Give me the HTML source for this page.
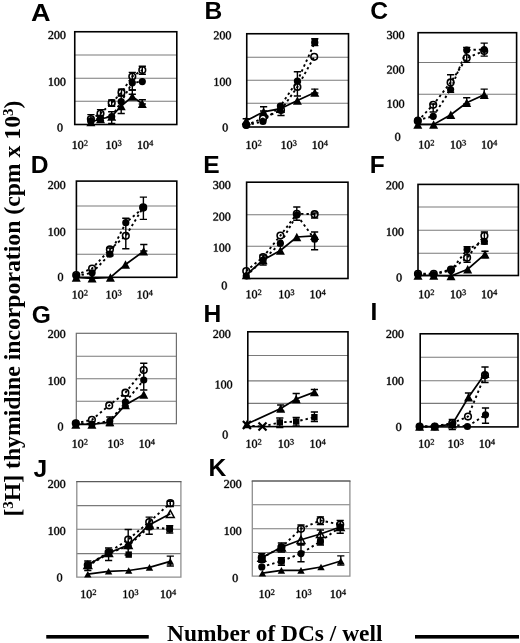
<!DOCTYPE html>
<html><head><meta charset="utf-8"><style>
html,body{margin:0;padding:0;background:#fff;}
svg{display:block;filter:grayscale(1) blur(0.3px);}
use{fill:#000;stroke:#000;stroke-width:75px;}
.yl{font-family:"Liberation Serif",serif;font-size:12px;text-anchor:end;fill:#000;stroke:#000;stroke-width:0.25px;}
.tk{font-family:"Liberation Serif",serif;font-size:12px;fill:#000;stroke:#000;stroke-width:0.25px;}
.sup{font-size:8.4px;}
.pl{font-family:"Liberation Sans",sans-serif;font-weight:bold;font-size:24.6px;fill:#000;}
.big{font-family:"Liberation Serif",serif;font-weight:bold;font-size:23.2px;fill:#000;}
</style></head><body>
<svg width="520" height="643" viewBox="0 0 520 643">
<defs><path id="g0" d="M946 676Q946 -20 506 -20Q294 -20 186.0 158.0Q78 336 78 676Q78 1009 186.0 1185.5Q294 1362 514 1362Q726 1362 836.0 1187.5Q946 1013 946 676ZM762 676Q762 998 701.0 1140.0Q640 1282 506 1282Q376 1282 319.0 1148.0Q262 1014 262 676Q262 336 320.0 197.5Q378 59 506 59Q638 59 700.0 204.5Q762 350 762 676Z"/><path id="g1" d="M627 80 901 53V0H180V53L455 80V1174L184 1077V1130L575 1352H627Z"/><path id="g2" d="M911 0H90V147L276 316Q455 473 539.0 570.0Q623 667 659.5 770.0Q696 873 696 1006Q696 1136 637.0 1204.0Q578 1272 444 1272Q391 1272 335.0 1257.5Q279 1243 236 1219L201 1055H135V1313Q317 1356 444 1356Q664 1356 774.5 1264.5Q885 1173 885 1006Q885 894 841.5 794.5Q798 695 708.0 596.5Q618 498 410 321Q321 245 221 154H911Z"/><path id="g3" d="M944 365Q944 184 820.0 82.0Q696 -20 469 -20Q279 -20 109 23L98 305H164L209 117Q248 95 319.5 79.0Q391 63 453 63Q610 63 685.0 135.0Q760 207 760 375Q760 507 691.0 575.5Q622 644 477 651L334 659V741L477 750Q590 756 644.0 820.0Q698 884 698 1014Q698 1149 639.5 1210.5Q581 1272 453 1272Q400 1272 342.0 1257.5Q284 1243 240 1219L205 1055H139V1313Q238 1339 310.0 1347.5Q382 1356 453 1356Q883 1356 883 1026Q883 887 806.5 804.5Q730 722 590 702Q772 681 858.0 597.5Q944 514 944 365Z"/><path id="g4" d="M810 295V0H638V295H40V428L695 1348H810V438H992V295ZM638 1113H633L153 438H638Z"/></defs>
<rect width="520" height="643" fill="#fff"/>
<g id="pA"><line x1="74.75" y1="55" x2="176.8" y2="55" stroke="#7a7a7a" stroke-width="1.1"/><line x1="74.75" y1="78.2" x2="176.8" y2="78.2" stroke="#7a7a7a" stroke-width="1.1"/><line x1="74.75" y1="101.2" x2="176.8" y2="101.2" stroke="#7a7a7a" stroke-width="1.1"/><rect x="74.75" y="31.75" width="102.05" height="92.75" fill="none" stroke="#000" stroke-width="1.6"/><use href="#g2" transform="translate(47.90 39.00) scale(0.00586 -0.00586)"/><use href="#g0" transform="translate(53.90 39.00) scale(0.00586 -0.00586)"/><use href="#g0" transform="translate(59.90 39.00) scale(0.00586 -0.00586)"/><use href="#g1" transform="translate(47.90 85.70) scale(0.00586 -0.00586)"/><use href="#g0" transform="translate(53.90 85.70) scale(0.00586 -0.00586)"/><use href="#g0" transform="translate(59.90 85.70) scale(0.00586 -0.00586)"/><use href="#g0" transform="translate(57.00 131.50) scale(0.00586 -0.00586)"/><use href="#g1" transform="translate(71.70 148.90) scale(0.00586 -0.00586)"/><use href="#g0" transform="translate(77.70 148.90) scale(0.00586 -0.00586)"/><use href="#g2" transform="translate(83.80 145.80) scale(0.00410 -0.00410)"/><use href="#g1" transform="translate(105.50 148.90) scale(0.00586 -0.00586)"/><use href="#g0" transform="translate(111.50 148.90) scale(0.00586 -0.00586)"/><use href="#g3" transform="translate(117.60 145.80) scale(0.00410 -0.00410)"/><use href="#g1" transform="translate(137.00 148.90) scale(0.00586 -0.00586)"/><use href="#g0" transform="translate(143.00 148.90) scale(0.00586 -0.00586)"/><use href="#g4" transform="translate(149.10 145.80) scale(0.00410 -0.00410)"/><text x="0" y="0" class="pl" transform="translate(30.95 21.2) scale(1.1 1.0)">A</text><path d="M90.90 122.00 L100.50 119.00 L111.70 116.50 L121.20 106.00 L132.30 96.50 L142.30 103.70" fill="none" stroke="#000" stroke-width="1.7"/><path d="M90.90 119.00 L100.50 113.50 L111.70 103.00 L121.50 92.40 L132.30 76.50 L142.30 70.10" fill="none" stroke="#000" stroke-width="1.9" stroke-dasharray="2.4 3"/><path d="M90.90 120.80 L100.50 118.00 L111.70 116.50 L121.20 101.70 L132.30 82.80 L142.30 81.60" fill="none" stroke="#000" stroke-width="1.9" stroke-dasharray="2.4 3"/><path d="M90.90 114.60V122.00M87.30 114.60H94.50M87.30 122.00H94.50" stroke="#000" stroke-width="1.4" fill="none"/><path d="M100.50 109.60V120.80M96.90 109.60H104.10M96.90 120.80H104.10" stroke="#000" stroke-width="1.4" fill="none"/><path d="M111.70 111.80V123.50M108.10 111.80H115.30M108.10 123.50H115.30" stroke="#000" stroke-width="1.4" fill="none"/><path d="M121.20 96.00V113.50M117.60 96.00H124.80M117.60 113.50H124.80" stroke="#000" stroke-width="1.4" fill="none"/><path d="M132.30 72.40V90.00M128.70 72.40H135.90M128.70 90.00H135.90" stroke="#000" stroke-width="1.4" fill="none"/><path d="M132.30 90.00V94.30M128.70 90.00H135.90M128.70 94.30H135.90" stroke="#000" stroke-width="1.4" fill="none"/><path d="M142.30 66.20V74.20M138.70 66.20H145.90M138.70 74.20H145.90" stroke="#000" stroke-width="1.4" fill="none"/><path d="M142.30 99.70V104.00M138.70 99.70H145.90M138.70 104.00H145.90" stroke="#000" stroke-width="1.4" fill="none"/><path d="M111.70 100.00V106.30M108.10 100.00H115.30M108.10 106.30H115.30" stroke="#000" stroke-width="1.4" fill="none"/><path d="M121.50 89.20V95.60M117.90 89.20H125.10M117.90 95.60H125.10" stroke="#000" stroke-width="1.4" fill="none"/><path d="M86.40 126.20L90.90 117.80L95.40 126.20Z" fill="#000"/><path d="M96.00 123.20L100.50 114.80L105.00 123.20Z" fill="#000"/><path d="M107.20 120.70L111.70 112.30L116.20 120.70Z" fill="#000"/><path d="M116.70 110.20L121.20 101.80L125.70 110.20Z" fill="#000"/><path d="M127.80 100.70L132.30 92.30L136.80 100.70Z" fill="#000"/><path d="M137.80 107.90L142.30 99.50L146.80 107.90Z" fill="#000"/><circle cx="90.9" cy="119" r="3.30" fill="none" stroke="#000" stroke-width="1.6"/><circle cx="100.5" cy="113.5" r="3.30" fill="none" stroke="#000" stroke-width="1.6"/><circle cx="111.7" cy="103" r="3.30" fill="none" stroke="#000" stroke-width="1.6"/><circle cx="121.5" cy="92.4" r="3.30" fill="none" stroke="#000" stroke-width="1.6"/><circle cx="132.3" cy="76.5" r="3.30" fill="none" stroke="#000" stroke-width="1.6"/><circle cx="142.3" cy="70.1" r="3.30" fill="none" stroke="#000" stroke-width="1.6"/><circle cx="90.9" cy="120.8" r="3.6" fill="#000"/><circle cx="100.5" cy="118" r="3.6" fill="#000"/><circle cx="111.7" cy="116.5" r="3.6" fill="#000"/><circle cx="121.2" cy="101.7" r="3.6" fill="#000"/><circle cx="132.3" cy="82.8" r="3.6" fill="#000"/><circle cx="142.3" cy="81.6" r="3.6" fill="#000"/></g>
<g id="pB"><line x1="246.75" y1="57.2" x2="348.5" y2="57.2" stroke="#7a7a7a" stroke-width="1.1"/><line x1="246.75" y1="80.2" x2="348.5" y2="80.2" stroke="#7a7a7a" stroke-width="1.1"/><line x1="246.75" y1="103.3" x2="348.5" y2="103.3" stroke="#7a7a7a" stroke-width="1.1"/><rect x="246.75" y="33.75" width="101.75" height="93.25" fill="none" stroke="#000" stroke-width="1.6"/><use href="#g2" transform="translate(213.40 39.30) scale(0.00586 -0.00586)"/><use href="#g0" transform="translate(219.40 39.30) scale(0.00586 -0.00586)"/><use href="#g0" transform="translate(225.40 39.30) scale(0.00586 -0.00586)"/><use href="#g1" transform="translate(213.40 85.80) scale(0.00586 -0.00586)"/><use href="#g0" transform="translate(219.40 85.80) scale(0.00586 -0.00586)"/><use href="#g0" transform="translate(225.40 85.80) scale(0.00586 -0.00586)"/><use href="#g0" transform="translate(222.20 131.40) scale(0.00586 -0.00586)"/><use href="#g1" transform="translate(245.50 148.90) scale(0.00586 -0.00586)"/><use href="#g0" transform="translate(251.50 148.90) scale(0.00586 -0.00586)"/><use href="#g2" transform="translate(257.60 145.80) scale(0.00410 -0.00410)"/><use href="#g1" transform="translate(280.60 148.90) scale(0.00586 -0.00586)"/><use href="#g0" transform="translate(286.60 148.90) scale(0.00586 -0.00586)"/><use href="#g3" transform="translate(292.70 145.80) scale(0.00410 -0.00410)"/><use href="#g1" transform="translate(311.70 148.90) scale(0.00586 -0.00586)"/><use href="#g0" transform="translate(317.70 148.90) scale(0.00586 -0.00586)"/><use href="#g4" transform="translate(323.80 145.80) scale(0.00410 -0.00410)"/><text x="204.55" y="18.8" class="pl">B</text><path d="M246.25 120.80 L263.60 111.80 L280.50 108.70 L297.40 100.50 L314.80 92.50" fill="none" stroke="#000" stroke-width="1.7"/><path d="M246.25 125.00 L263.00 118.40 L281.00 110.00 L297.40 87.00 L314.20 56.80" fill="none" stroke="#000" stroke-width="1.9" stroke-dasharray="2.4 3"/><path d="M246.25 125.10 L263.00 121.50 L280.40 106.00 L297.40 81.00 L314.80 42.50" fill="none" stroke="#000" stroke-width="1.9" stroke-dasharray="2.4 3"/><path d="M246.25 118.80V124.00M242.65 118.80H249.85M242.65 124.00H249.85" stroke="#000" stroke-width="1.4" fill="none"/><path d="M263.60 106.80V111.00M260.00 106.80H267.20M260.00 111.00H267.20" stroke="#000" stroke-width="1.4" fill="none"/><path d="M281.00 106.00V115.50M277.40 106.00H284.60M277.40 115.50H284.60" stroke="#000" stroke-width="1.4" fill="none"/><path d="M297.40 71.70V96.00M293.80 71.70H301.00M293.80 96.00H301.00" stroke="#000" stroke-width="1.4" fill="none"/><path d="M314.80 38.70V45.60M311.20 38.70H318.40M311.20 45.60H318.40" stroke="#000" stroke-width="1.4" fill="none"/><path d="M314.80 89.10V93.00M311.20 89.10H318.40M311.20 93.00H318.40" stroke="#000" stroke-width="1.4" fill="none"/><path d="M241.75 125.00L246.25 116.60L250.75 125.00Z" fill="#000"/><path d="M259.10 116.00L263.60 107.60L268.10 116.00Z" fill="#000"/><path d="M276.00 112.90L280.50 104.50L285.00 112.90Z" fill="#000"/><path d="M292.90 104.70L297.40 96.30L301.90 104.70Z" fill="#000"/><path d="M310.30 96.70L314.80 88.30L319.30 96.70Z" fill="#000"/><circle cx="246.25" cy="125" r="3.30" fill="none" stroke="#000" stroke-width="1.6"/><circle cx="263" cy="118.4" r="3.30" fill="none" stroke="#000" stroke-width="1.6"/><circle cx="281" cy="110" r="3.30" fill="none" stroke="#000" stroke-width="1.6"/><circle cx="297.4" cy="87" r="3.30" fill="none" stroke="#000" stroke-width="1.6"/><circle cx="314.2" cy="56.8" r="3.30" fill="none" stroke="#000" stroke-width="1.6"/><circle cx="246.25" cy="125.1" r="3.6" fill="#000"/><circle cx="263" cy="121.5" r="3.6" fill="#000"/><circle cx="280.4" cy="106" r="3.6" fill="#000"/><circle cx="297.4" cy="81" r="3.6" fill="#000"/><circle cx="314.8" cy="42.5" r="3.6" fill="#000"/><rect x="311.60" y="39.00" width="6.4" height="6.4" fill="#000"/></g>
<g id="pC"><line x1="418.1" y1="62.5" x2="516.6" y2="62.5" stroke="#7a7a7a" stroke-width="1.1"/><line x1="418.1" y1="94.3" x2="516.6" y2="94.3" stroke="#7a7a7a" stroke-width="1.1"/><rect x="418.1" y="32.7" width="98.50" height="91.70" fill="none" stroke="#000" stroke-width="1.6"/><use href="#g3" transform="translate(386.60 39.00) scale(0.00586 -0.00586)"/><use href="#g0" transform="translate(392.60 39.00) scale(0.00586 -0.00586)"/><use href="#g0" transform="translate(398.60 39.00) scale(0.00586 -0.00586)"/><use href="#g2" transform="translate(386.60 73.60) scale(0.00586 -0.00586)"/><use href="#g0" transform="translate(392.60 73.60) scale(0.00586 -0.00586)"/><use href="#g0" transform="translate(398.60 73.60) scale(0.00586 -0.00586)"/><use href="#g1" transform="translate(386.60 107.70) scale(0.00586 -0.00586)"/><use href="#g0" transform="translate(392.60 107.70) scale(0.00586 -0.00586)"/><use href="#g0" transform="translate(398.60 107.70) scale(0.00586 -0.00586)"/><use href="#g0" transform="translate(394.70 140.80) scale(0.00586 -0.00586)"/><use href="#g1" transform="translate(418.20 148.60) scale(0.00586 -0.00586)"/><use href="#g0" transform="translate(424.20 148.60) scale(0.00586 -0.00586)"/><use href="#g2" transform="translate(430.30 145.50) scale(0.00410 -0.00410)"/><use href="#g1" transform="translate(449.90 148.60) scale(0.00586 -0.00586)"/><use href="#g0" transform="translate(455.90 148.60) scale(0.00586 -0.00586)"/><use href="#g3" transform="translate(462.00 145.50) scale(0.00410 -0.00410)"/><use href="#g1" transform="translate(481.00 148.60) scale(0.00586 -0.00586)"/><use href="#g0" transform="translate(487.00 148.60) scale(0.00586 -0.00586)"/><use href="#g4" transform="translate(493.10 145.50) scale(0.00410 -0.00410)"/><text x="370.2" y="19.2" class="pl">C</text><path d="M417.80 124.50 L433.60 124.50 L450.80 114.80 L466.70 102.80 L484.20 94.70" fill="none" stroke="#000" stroke-width="1.7"/><path d="M417.80 121.00 L433.20 104.80 L450.60 82.40 L466.70 58.00 L484.20 51.00" fill="none" stroke="#000" stroke-width="1.9" stroke-dasharray="2.4 3"/><path d="M417.80 120.00 L433.20 116.30 L450.60 89.50 L466.70 50.00 L484.20 49.50" fill="none" stroke="#000" stroke-width="1.9" stroke-dasharray="2.4 3"/><path d="M466.70 97.80V104.00M463.10 97.80H470.30M463.10 104.00H470.30" stroke="#000" stroke-width="1.4" fill="none"/><path d="M484.20 89.10V96.00M480.60 89.10H487.80M480.60 96.00H487.80" stroke="#000" stroke-width="1.4" fill="none"/><path d="M450.60 74.80V92.20M447.00 74.80H454.20M447.00 92.20H454.20" stroke="#000" stroke-width="1.4" fill="none"/><path d="M466.70 47.40V62.40M463.10 47.40H470.30M463.10 62.40H470.30" stroke="#000" stroke-width="1.4" fill="none"/><path d="M484.20 43.10V56.10M480.60 43.10H487.80M480.60 56.10H487.80" stroke="#000" stroke-width="1.4" fill="none"/><path d="M433.20 104.00V112.00M429.60 104.00H436.80M429.60 112.00H436.80" stroke="#000" stroke-width="1.4" fill="none"/><path d="M413.30 128.70L417.80 120.30L422.30 128.70Z" fill="#000"/><path d="M429.10 128.70L433.60 120.30L438.10 128.70Z" fill="#000"/><path d="M446.30 119.00L450.80 110.60L455.30 119.00Z" fill="#000"/><path d="M462.20 107.00L466.70 98.60L471.20 107.00Z" fill="#000"/><path d="M479.70 98.90L484.20 90.50L488.70 98.90Z" fill="#000"/><circle cx="417.8" cy="121" r="3.30" fill="none" stroke="#000" stroke-width="1.6"/><circle cx="433.2" cy="104.8" r="3.30" fill="none" stroke="#000" stroke-width="1.6"/><circle cx="450.6" cy="82.4" r="3.30" fill="none" stroke="#000" stroke-width="1.6"/><circle cx="466.7" cy="58" r="3.30" fill="none" stroke="#000" stroke-width="1.6"/><circle cx="484.2" cy="51" r="3.30" fill="none" stroke="#000" stroke-width="1.6"/><circle cx="417.8" cy="120" r="3.6" fill="#000"/><circle cx="433.2" cy="116.3" r="3.6" fill="#000"/><circle cx="450.6" cy="89.5" r="3.6" fill="#000"/><circle cx="466.7" cy="50" r="3.6" fill="#000"/><circle cx="484.2" cy="49.5" r="3.6" fill="#000"/></g>
<g id="pD"><line x1="76.4" y1="206" x2="176.8" y2="206" stroke="#7a7a7a" stroke-width="1.1"/><line x1="76.4" y1="229.3" x2="176.8" y2="229.3" stroke="#7a7a7a" stroke-width="1.1"/><line x1="76.4" y1="254.2" x2="176.8" y2="254.2" stroke="#7a7a7a" stroke-width="1.1"/><rect x="76.4" y="181.1" width="100.40" height="96.20" fill="none" stroke="#000" stroke-width="1.6"/><use href="#g2" transform="translate(47.70 189.00) scale(0.00586 -0.00586)"/><use href="#g0" transform="translate(53.70 189.00) scale(0.00586 -0.00586)"/><use href="#g0" transform="translate(59.70 189.00) scale(0.00586 -0.00586)"/><use href="#g1" transform="translate(47.70 235.80) scale(0.00586 -0.00586)"/><use href="#g0" transform="translate(53.70 235.80) scale(0.00586 -0.00586)"/><use href="#g0" transform="translate(59.70 235.80) scale(0.00586 -0.00586)"/><use href="#g0" transform="translate(57.50 280.90) scale(0.00586 -0.00586)"/><use href="#g1" transform="translate(71.70 298.60) scale(0.00586 -0.00586)"/><use href="#g0" transform="translate(77.70 298.60) scale(0.00586 -0.00586)"/><use href="#g2" transform="translate(83.80 295.50) scale(0.00410 -0.00410)"/><use href="#g1" transform="translate(105.50 298.60) scale(0.00586 -0.00586)"/><use href="#g0" transform="translate(111.50 298.60) scale(0.00586 -0.00586)"/><use href="#g3" transform="translate(117.60 295.50) scale(0.00410 -0.00410)"/><use href="#g1" transform="translate(136.60 298.60) scale(0.00586 -0.00586)"/><use href="#g0" transform="translate(142.60 298.60) scale(0.00586 -0.00586)"/><use href="#g4" transform="translate(148.70 295.50) scale(0.00410 -0.00410)"/><text x="30.8" y="173.1" class="pl">D</text><path d="M76.25 277.50 L92.10 278.30 L110.40 277.50 L125.50 264.50 L143.60 251.30" fill="none" stroke="#000" stroke-width="1.7"/><path d="M76.25 275.00 L92.10 268.50 L109.90 249.40 L125.80 235.80 L143.20 207.40" fill="none" stroke="#000" stroke-width="1.9" stroke-dasharray="2.4 3"/><path d="M76.25 276.00 L92.10 272.80 L109.90 254.20 L125.80 222.70 L143.20 208.00" fill="none" stroke="#000" stroke-width="1.9" stroke-dasharray="2.4 3"/><path d="M125.80 218.30V248.80M122.20 218.30H129.40M122.20 248.80H129.40" stroke="#000" stroke-width="1.4" fill="none"/><path d="M143.40 197.10V219.40M139.80 197.10H147.00M139.80 219.40H147.00" stroke="#000" stroke-width="1.4" fill="none"/><path d="M143.80 244.50V251.00M140.20 244.50H147.40M140.20 251.00H147.40" stroke="#000" stroke-width="1.4" fill="none"/><path d="M109.90 248.00V255.70M106.30 248.00H113.50M106.30 255.70H113.50" stroke="#000" stroke-width="1.4" fill="none"/><path d="M71.75 281.70L76.25 273.30L80.75 281.70Z" fill="#000"/><path d="M87.60 282.50L92.10 274.10L96.60 282.50Z" fill="#000"/><path d="M105.90 281.70L110.40 273.30L114.90 281.70Z" fill="#000"/><path d="M121.00 268.70L125.50 260.30L130.00 268.70Z" fill="#000"/><path d="M139.10 255.50L143.60 247.10L148.10 255.50Z" fill="#000"/><circle cx="76.25" cy="275" r="3.30" fill="none" stroke="#000" stroke-width="1.6"/><circle cx="92.1" cy="268.5" r="3.30" fill="none" stroke="#000" stroke-width="1.6"/><circle cx="109.9" cy="249.4" r="3.30" fill="none" stroke="#000" stroke-width="1.6"/><circle cx="125.8" cy="235.8" r="3.30" fill="none" stroke="#000" stroke-width="1.6"/><circle cx="143.2" cy="207.4" r="3.30" fill="none" stroke="#000" stroke-width="1.6"/><circle cx="76.25" cy="276" r="3.6" fill="#000"/><circle cx="92.1" cy="272.8" r="3.6" fill="#000"/><circle cx="109.9" cy="254.2" r="3.6" fill="#000"/><circle cx="125.8" cy="222.7" r="3.6" fill="#000"/><circle cx="143.2" cy="208" r="3.6" fill="#000"/></g>
<g id="pE"><line x1="246.6" y1="214.8" x2="348" y2="214.8" stroke="#7a7a7a" stroke-width="1.1"/><line x1="246.6" y1="246.3" x2="348" y2="246.3" stroke="#7a7a7a" stroke-width="1.1"/><rect x="246.6" y="182.2" width="101.40" height="96.30" fill="none" stroke="#000" stroke-width="1.6"/><use href="#g3" transform="translate(212.80 189.00) scale(0.00586 -0.00586)"/><use href="#g0" transform="translate(218.80 189.00) scale(0.00586 -0.00586)"/><use href="#g0" transform="translate(224.80 189.00) scale(0.00586 -0.00586)"/><use href="#g2" transform="translate(212.80 220.60) scale(0.00586 -0.00586)"/><use href="#g0" transform="translate(218.80 220.60) scale(0.00586 -0.00586)"/><use href="#g0" transform="translate(224.80 220.60) scale(0.00586 -0.00586)"/><use href="#g1" transform="translate(212.80 251.60) scale(0.00586 -0.00586)"/><use href="#g0" transform="translate(218.80 251.60) scale(0.00586 -0.00586)"/><use href="#g0" transform="translate(224.80 251.60) scale(0.00586 -0.00586)"/><use href="#g0" transform="translate(221.30 289.50) scale(0.00586 -0.00586)"/><use href="#g1" transform="translate(245.50 298.20) scale(0.00586 -0.00586)"/><use href="#g0" transform="translate(251.50 298.20) scale(0.00586 -0.00586)"/><use href="#g2" transform="translate(257.60 295.10) scale(0.00410 -0.00410)"/><use href="#g1" transform="translate(278.30 298.20) scale(0.00586 -0.00586)"/><use href="#g0" transform="translate(284.30 298.20) scale(0.00586 -0.00586)"/><use href="#g3" transform="translate(290.40 295.10) scale(0.00410 -0.00410)"/><use href="#g1" transform="translate(309.50 298.20) scale(0.00586 -0.00586)"/><use href="#g0" transform="translate(315.50 298.20) scale(0.00586 -0.00586)"/><use href="#g4" transform="translate(321.60 295.10) scale(0.00410 -0.00410)"/><text x="203.35" y="173.1" class="pl">E</text><path d="M246.25 275.00 L263.10 260.00 L280.40 250.50 L296.80 237.00 L314.60 235.90" fill="none" stroke="#000" stroke-width="1.7"/><path d="M246.25 271.00 L263.10 257.00 L280.40 235.60 L296.80 213.75 L314.60 214.20" fill="none" stroke="#000" stroke-width="1.9" stroke-dasharray="2.4 3"/><path d="M246.25 276.00 L263.10 260.00 L280.40 243.30 L296.80 215.00 L314.60 239.20" fill="none" stroke="#000" stroke-width="1.9" stroke-dasharray="2.4 3"/><path d="M296.80 207.00V220.20M293.20 207.00H300.40M293.20 220.20H300.40" stroke="#000" stroke-width="1.4" fill="none"/><path d="M314.60 232.00V249.80M311.00 232.00H318.20M311.00 249.80H318.20" stroke="#000" stroke-width="1.4" fill="none"/><path d="M263.10 255.00V265.00M259.50 255.00H266.70M259.50 265.00H266.70" stroke="#000" stroke-width="1.4" fill="none"/><path d="M314.60 213.00V218.00M311.00 213.00H318.20M311.00 218.00H318.20" stroke="#000" stroke-width="1.4" fill="none"/><path d="M241.75 279.20L246.25 270.80L250.75 279.20Z" fill="#000"/><path d="M258.60 264.20L263.10 255.80L267.60 264.20Z" fill="#000"/><path d="M275.90 254.70L280.40 246.30L284.90 254.70Z" fill="#000"/><path d="M292.30 241.20L296.80 232.80L301.30 241.20Z" fill="#000"/><path d="M310.10 240.10L314.60 231.70L319.10 240.10Z" fill="#000"/><circle cx="246.25" cy="271" r="3.30" fill="none" stroke="#000" stroke-width="1.6"/><circle cx="263.1" cy="257" r="3.30" fill="none" stroke="#000" stroke-width="1.6"/><circle cx="280.4" cy="235.6" r="3.30" fill="none" stroke="#000" stroke-width="1.6"/><circle cx="296.8" cy="213.75" r="3.30" fill="none" stroke="#000" stroke-width="1.6"/><circle cx="314.6" cy="214.2" r="3.30" fill="none" stroke="#000" stroke-width="1.6"/><circle cx="246.25" cy="276" r="3.6" fill="#000"/><circle cx="263.1" cy="260" r="3.6" fill="#000"/><circle cx="280.4" cy="243.3" r="3.6" fill="#000"/><circle cx="296.8" cy="215" r="3.6" fill="#000"/><circle cx="314.6" cy="239.2" r="3.6" fill="#000"/></g>
<g id="pF"><line x1="418" y1="207" x2="518.4" y2="207" stroke="#7a7a7a" stroke-width="1.1"/><line x1="418" y1="230.3" x2="518.4" y2="230.3" stroke="#7a7a7a" stroke-width="1.1"/><line x1="418" y1="253.3" x2="518.4" y2="253.3" stroke="#7a7a7a" stroke-width="1.1"/><rect x="418" y="184.4" width="100.40" height="91.10" fill="none" stroke="#000" stroke-width="1.6"/><use href="#g2" transform="translate(385.90 189.30) scale(0.00586 -0.00586)"/><use href="#g0" transform="translate(391.90 189.30) scale(0.00586 -0.00586)"/><use href="#g0" transform="translate(397.90 189.30) scale(0.00586 -0.00586)"/><use href="#g1" transform="translate(385.90 235.80) scale(0.00586 -0.00586)"/><use href="#g0" transform="translate(391.90 235.80) scale(0.00586 -0.00586)"/><use href="#g0" transform="translate(397.90 235.80) scale(0.00586 -0.00586)"/><use href="#g0" transform="translate(396.10 281.40) scale(0.00586 -0.00586)"/><use href="#g1" transform="translate(418.20 298.20) scale(0.00586 -0.00586)"/><use href="#g0" transform="translate(424.20 298.20) scale(0.00586 -0.00586)"/><use href="#g2" transform="translate(430.30 295.10) scale(0.00410 -0.00410)"/><use href="#g1" transform="translate(449.90 298.20) scale(0.00586 -0.00586)"/><use href="#g0" transform="translate(455.90 298.20) scale(0.00586 -0.00586)"/><use href="#g3" transform="translate(462.00 295.10) scale(0.00410 -0.00410)"/><use href="#g1" transform="translate(481.00 298.20) scale(0.00586 -0.00586)"/><use href="#g0" transform="translate(487.00 298.20) scale(0.00586 -0.00586)"/><use href="#g4" transform="translate(493.10 295.10) scale(0.00410 -0.00410)"/><text x="369.65" y="173.45" class="pl">F</text><path d="M418.00 275.50 L433.75 275.50 L451.00 276.00 L467.70 269.20 L485.00 254.20" fill="none" stroke="#000" stroke-width="1.7"/><path d="M418.00 273.75 L433.75 273.75 L451.00 269.50 L467.10 257.70 L484.40 235.80" fill="none" stroke="#000" stroke-width="1.9" stroke-dasharray="2.4 3"/><path d="M418.00 274.50 L433.75 274.50 L451.00 270.40 L467.10 249.60 L484.40 241.50" fill="none" stroke="#000" stroke-width="1.9" stroke-dasharray="2.4 3"/><path d="M467.10 246.70V262.30M463.50 246.70H470.70M463.50 262.30H470.70" stroke="#000" stroke-width="1.4" fill="none"/><path d="M485.00 251.30V257.70M481.40 251.30H488.60M481.40 257.70H488.60" stroke="#000" stroke-width="1.4" fill="none"/><path d="M484.40 232.00V244.00M480.80 232.00H488.00M480.80 244.00H488.00" stroke="#000" stroke-width="1.4" fill="none"/><path d="M413.50 279.70L418.00 271.30L422.50 279.70Z" fill="#000"/><path d="M429.25 279.70L433.75 271.30L438.25 279.70Z" fill="#000"/><path d="M446.50 280.20L451.00 271.80L455.50 280.20Z" fill="#000"/><path d="M463.20 273.40L467.70 265.00L472.20 273.40Z" fill="#000"/><path d="M480.50 258.40L485.00 250.00L489.50 258.40Z" fill="#000"/><circle cx="418" cy="273.75" r="3.30" fill="none" stroke="#000" stroke-width="1.6"/><circle cx="433.75" cy="273.75" r="3.30" fill="none" stroke="#000" stroke-width="1.6"/><circle cx="451" cy="269.5" r="3.30" fill="none" stroke="#000" stroke-width="1.6"/><circle cx="467.1" cy="257.7" r="3.30" fill="none" stroke="#000" stroke-width="1.6"/><circle cx="484.4" cy="235.8" r="3.30" fill="none" stroke="#000" stroke-width="1.6"/><circle cx="418" cy="274.5" r="3.6" fill="#000"/><circle cx="433.75" cy="274.5" r="3.6" fill="#000"/><circle cx="451" cy="270.4" r="3.6" fill="#000"/><circle cx="467.1" cy="249.6" r="3.6" fill="#000"/><circle cx="484.4" cy="241.5" r="3.6" fill="#000"/></g>
<g id="pG"><line x1="76.3" y1="356.2" x2="176.4" y2="356.2" stroke="#7a7a7a" stroke-width="1.1"/><line x1="76.3" y1="378.8" x2="176.4" y2="378.8" stroke="#7a7a7a" stroke-width="1.1"/><line x1="76.3" y1="401.3" x2="176.4" y2="401.3" stroke="#7a7a7a" stroke-width="1.1"/><rect x="76.3" y="333.3" width="100.10" height="90.40" fill="none" stroke="#6e6e6e" stroke-width="1.2"/><use href="#g2" transform="translate(47.70 337.90) scale(0.00586 -0.00586)"/><use href="#g0" transform="translate(53.70 337.90) scale(0.00586 -0.00586)"/><use href="#g0" transform="translate(59.70 337.90) scale(0.00586 -0.00586)"/><use href="#g1" transform="translate(47.70 384.90) scale(0.00586 -0.00586)"/><use href="#g0" transform="translate(53.70 384.90) scale(0.00586 -0.00586)"/><use href="#g0" transform="translate(59.70 384.90) scale(0.00586 -0.00586)"/><use href="#g0" transform="translate(57.50 430.50) scale(0.00586 -0.00586)"/><use href="#g1" transform="translate(71.70 447.70) scale(0.00586 -0.00586)"/><use href="#g0" transform="translate(77.70 447.70) scale(0.00586 -0.00586)"/><use href="#g2" transform="translate(83.80 444.60) scale(0.00410 -0.00410)"/><use href="#g1" transform="translate(107.50 447.70) scale(0.00586 -0.00586)"/><use href="#g0" transform="translate(113.50 447.70) scale(0.00586 -0.00586)"/><use href="#g3" transform="translate(119.60 444.60) scale(0.00410 -0.00410)"/><use href="#g1" transform="translate(138.70 447.70) scale(0.00586 -0.00586)"/><use href="#g0" transform="translate(144.70 447.70) scale(0.00586 -0.00586)"/><use href="#g4" transform="translate(150.80 444.60) scale(0.00410 -0.00410)"/><text x="31.7" y="322.6" class="pl">G</text><path d="M75.80 424.50 L91.90 424.50 L109.80 422.00 L125.40 405.00 L143.75 394.50" fill="none" stroke="#000" stroke-width="1.7"/><path d="M75.80 423.30 L91.90 419.80 L109.20 405.40 L125.40 392.70 L143.75 370.00" fill="none" stroke="#000" stroke-width="1.9" stroke-dasharray="2.4 3"/><path d="M75.80 423.30 L91.90 424.00 L109.80 421.00 L125.40 402.00 L143.75 380.00" fill="none" stroke="#000" stroke-width="1.9" stroke-dasharray="2.4 3"/><path d="M109.80 417.00V425.50M106.20 417.00H113.40M106.20 425.50H113.40" stroke="#000" stroke-width="1.4" fill="none"/><path d="M125.40 396.00V406.00M121.80 396.00H129.00M121.80 406.00H129.00" stroke="#000" stroke-width="1.4" fill="none"/><path d="M143.75 363.25V390.00M140.15 363.25H147.35M140.15 390.00H147.35" stroke="#000" stroke-width="1.4" fill="none"/><path d="M71.30 428.70L75.80 420.30L80.30 428.70Z" fill="#000"/><path d="M87.40 428.70L91.90 420.30L96.40 428.70Z" fill="#000"/><path d="M105.30 426.20L109.80 417.80L114.30 426.20Z" fill="#000"/><path d="M120.90 409.20L125.40 400.80L129.90 409.20Z" fill="#000"/><path d="M139.25 398.70L143.75 390.30L148.25 398.70Z" fill="#000"/><circle cx="75.8" cy="423.3" r="3.30" fill="none" stroke="#000" stroke-width="1.6"/><circle cx="91.9" cy="419.8" r="3.30" fill="none" stroke="#000" stroke-width="1.6"/><circle cx="109.2" cy="405.4" r="3.30" fill="none" stroke="#000" stroke-width="1.6"/><circle cx="125.4" cy="392.7" r="3.30" fill="none" stroke="#000" stroke-width="1.6"/><circle cx="143.75" cy="370" r="3.30" fill="none" stroke="#000" stroke-width="1.6"/><circle cx="75.8" cy="423.3" r="3.6" fill="#000"/><circle cx="91.9" cy="424" r="3.6" fill="#000"/><circle cx="109.8" cy="421" r="3.6" fill="#000"/><circle cx="125.4" cy="402" r="3.6" fill="#000"/><circle cx="143.75" cy="380" r="3.6" fill="#000"/></g>
<g id="pH"><line x1="247.8" y1="355.5" x2="348" y2="355.5" stroke="#7a7a7a" stroke-width="1.1"/><line x1="247.8" y1="380.9" x2="348" y2="380.9" stroke="#7a7a7a" stroke-width="1.1"/><line x1="247.8" y1="403.4" x2="348" y2="403.4" stroke="#7a7a7a" stroke-width="1.1"/><rect x="247.8" y="331.8" width="100.20" height="94.80" fill="none" stroke="#000" stroke-width="1.6"/><use href="#g2" transform="translate(212.80 337.90) scale(0.00586 -0.00586)"/><use href="#g0" transform="translate(218.80 337.90) scale(0.00586 -0.00586)"/><use href="#g0" transform="translate(224.80 337.90) scale(0.00586 -0.00586)"/><use href="#g1" transform="translate(214.60 388.50) scale(0.00586 -0.00586)"/><use href="#g0" transform="translate(220.60 388.50) scale(0.00586 -0.00586)"/><use href="#g0" transform="translate(226.60 388.50) scale(0.00586 -0.00586)"/><use href="#g0" transform="translate(222.20 438.60) scale(0.00586 -0.00586)"/><use href="#g1" transform="translate(245.50 447.70) scale(0.00586 -0.00586)"/><use href="#g0" transform="translate(251.50 447.70) scale(0.00586 -0.00586)"/><use href="#g2" transform="translate(257.60 444.60) scale(0.00410 -0.00410)"/><use href="#g1" transform="translate(277.80 447.70) scale(0.00586 -0.00586)"/><use href="#g0" transform="translate(283.80 447.70) scale(0.00586 -0.00586)"/><use href="#g3" transform="translate(289.90 444.60) scale(0.00410 -0.00410)"/><use href="#g1" transform="translate(309.50 447.70) scale(0.00586 -0.00586)"/><use href="#g0" transform="translate(315.50 447.70) scale(0.00586 -0.00586)"/><use href="#g4" transform="translate(321.60 444.60) scale(0.00410 -0.00410)"/><text x="203.5" y="322.3" class="pl">H</text><path d="M246.90 424.10 L280.70 408.50 L296.20 399.00 L314.40 392.10" fill="none" stroke="#000" stroke-width="1.7"/><path d="M246.90 425.50 L262.50 426.50 L279.80 422.40 L296.20 421.50 L314.40 417.20" fill="none" stroke="#000" stroke-width="1.9" stroke-dasharray="2.4 3"/><path d="M280.70 405.00V411.00M277.10 405.00H284.30M277.10 411.00H284.30" stroke="#000" stroke-width="1.4" fill="none"/><path d="M296.20 393.50V401.00M292.60 393.50H299.80M292.60 401.00H299.80" stroke="#000" stroke-width="1.4" fill="none"/><path d="M314.40 389.50V394.70M310.80 389.50H318.00M310.80 394.70H318.00" stroke="#000" stroke-width="1.4" fill="none"/><path d="M279.80 418.00V427.60M276.20 418.00H283.40M276.20 427.60H283.40" stroke="#000" stroke-width="1.4" fill="none"/><path d="M296.20 417.50V426.00M292.60 417.50H299.80M292.60 426.00H299.80" stroke="#000" stroke-width="1.4" fill="none"/><path d="M314.40 412.00V421.50M310.80 412.00H318.00M310.80 421.50H318.00" stroke="#000" stroke-width="1.4" fill="none"/><path d="M242.40 428.30L246.90 419.90L251.40 428.30Z" fill="#000"/><path d="M276.20 412.70L280.70 404.30L285.20 412.70Z" fill="#000"/><path d="M291.70 403.20L296.20 394.80L300.70 403.20Z" fill="#000"/><path d="M309.90 396.30L314.40 387.90L318.90 396.30Z" fill="#000"/><rect x="276.60" y="419.20" width="6.4" height="6.4" fill="#000"/><rect x="293.00" y="418.30" width="6.4" height="6.4" fill="#000"/><rect x="311.20" y="414.00" width="6.4" height="6.4" fill="#000"/><path d="M242.90 421.00L250.90 429.00M242.90 429.00L250.90 421.00" stroke="#000" stroke-width="2.2"/><path d="M258.50 422.50L266.50 430.50M258.50 430.50L266.50 422.50" stroke="#000" stroke-width="2.2"/></g>
<g id="pI"><line x1="420.2" y1="357.2" x2="518" y2="357.2" stroke="#7a7a7a" stroke-width="1.1"/><line x1="420.2" y1="380.8" x2="518" y2="380.8" stroke="#7a7a7a" stroke-width="1.1"/><line x1="420.2" y1="403.4" x2="518" y2="403.4" stroke="#7a7a7a" stroke-width="1.1"/><rect x="420.2" y="333.8" width="97.80" height="93.10" fill="none" stroke="#000" stroke-width="1.6"/><use href="#g2" transform="translate(385.90 337.90) scale(0.00586 -0.00586)"/><use href="#g0" transform="translate(391.90 337.90) scale(0.00586 -0.00586)"/><use href="#g0" transform="translate(397.90 337.90) scale(0.00586 -0.00586)"/><use href="#g1" transform="translate(385.90 384.90) scale(0.00586 -0.00586)"/><use href="#g0" transform="translate(391.90 384.90) scale(0.00586 -0.00586)"/><use href="#g0" transform="translate(397.90 384.90) scale(0.00586 -0.00586)"/><use href="#g0" transform="translate(395.70 430.90) scale(0.00586 -0.00586)"/><use href="#g1" transform="translate(418.20 447.70) scale(0.00586 -0.00586)"/><use href="#g0" transform="translate(424.20 447.70) scale(0.00586 -0.00586)"/><use href="#g2" transform="translate(430.30 444.60) scale(0.00410 -0.00410)"/><use href="#g1" transform="translate(447.60 447.70) scale(0.00586 -0.00586)"/><use href="#g0" transform="translate(453.60 447.70) scale(0.00586 -0.00586)"/><use href="#g3" transform="translate(459.70 444.60) scale(0.00410 -0.00410)"/><use href="#g1" transform="translate(478.80 447.70) scale(0.00586 -0.00586)"/><use href="#g0" transform="translate(484.80 447.70) scale(0.00586 -0.00586)"/><use href="#g4" transform="translate(490.90 444.60) scale(0.00410 -0.00410)"/><text x="370.6" y="320.2" class="pl">I</text><path d="M419.60 426.50 L434.80 426.50 L452.30 424.20 L468.50 397.30 L485.00 373.80" fill="none" stroke="#000" stroke-width="1.7"/><path d="M419.60 426.50 L434.80 426.50 L452.30 423.00 L468.00 416.60 L485.00 375.20" fill="none" stroke="#000" stroke-width="1.9" stroke-dasharray="2.4 3"/><path d="M419.60 426.50 L434.80 426.50 L452.30 424.50 L467.40 426.50 L485.50 414.80" fill="none" stroke="#000" stroke-width="1.9" stroke-dasharray="2.4 3"/><path d="M485.00 367.00V382.50M481.40 367.00H488.60M481.40 382.50H488.60" stroke="#000" stroke-width="1.4" fill="none"/><path d="M485.50 408.00V423.20M481.90 408.00H489.10M481.90 423.20H489.10" stroke="#000" stroke-width="1.4" fill="none"/><path d="M468.50 393.00V400.00M464.90 393.00H472.10M464.90 400.00H472.10" stroke="#000" stroke-width="1.4" fill="none"/><path d="M452.30 419.50V429.50M448.70 419.50H455.90M448.70 429.50H455.90" stroke="#000" stroke-width="1.4" fill="none"/><path d="M415.10 430.70L419.60 422.30L424.10 430.70Z" fill="#000"/><path d="M430.30 430.70L434.80 422.30L439.30 430.70Z" fill="#000"/><path d="M447.80 428.40L452.30 420.00L456.80 428.40Z" fill="#000"/><path d="M464.00 401.50L468.50 393.10L473.00 401.50Z" fill="#000"/><path d="M480.50 378.00L485.00 369.60L489.50 378.00Z" fill="#000"/><circle cx="419.6" cy="426.5" r="3.30" fill="none" stroke="#000" stroke-width="1.6"/><circle cx="434.8" cy="426.5" r="3.30" fill="none" stroke="#000" stroke-width="1.6"/><circle cx="452.3" cy="423" r="3.30" fill="none" stroke="#000" stroke-width="1.6"/><circle cx="468" cy="416.6" r="3.30" fill="none" stroke="#000" stroke-width="1.6"/><circle cx="485" cy="375.2" r="3.30" fill="none" stroke="#000" stroke-width="1.6"/><circle cx="419.6" cy="426.5" r="3.6" fill="#000"/><circle cx="434.8" cy="426.5" r="3.6" fill="#000"/><circle cx="452.3" cy="424.5" r="3.6" fill="#000"/><circle cx="467.4" cy="426.5" r="3.6" fill="#000"/><circle cx="485.5" cy="414.8" r="3.6" fill="#000"/></g>
<g id="pJ"><line x1="76.8" y1="505.6" x2="180.9" y2="505.6" stroke="#7a7a7a" stroke-width="1.1"/><line x1="76.8" y1="529.3" x2="180.9" y2="529.3" stroke="#7a7a7a" stroke-width="1.1"/><line x1="76.8" y1="553.6" x2="180.9" y2="553.6" stroke="#7a7a7a" stroke-width="1.1"/><path d="M76.8 481.6V577.1H180.9V481.6" fill="none" stroke="#8e8e8e" stroke-width="1.3"/><path d="M76.20 481.6H181.50" fill="none" stroke="#5a5a5a" stroke-width="1.3"/><use href="#g2" transform="translate(47.70 487.90) scale(0.00586 -0.00586)"/><use href="#g0" transform="translate(53.70 487.90) scale(0.00586 -0.00586)"/><use href="#g0" transform="translate(59.70 487.90) scale(0.00586 -0.00586)"/><use href="#g1" transform="translate(47.70 534.90) scale(0.00586 -0.00586)"/><use href="#g0" transform="translate(53.70 534.90) scale(0.00586 -0.00586)"/><use href="#g0" transform="translate(59.70 534.90) scale(0.00586 -0.00586)"/><use href="#g0" transform="translate(56.60 581.40) scale(0.00586 -0.00586)"/><use href="#g1" transform="translate(80.20 598.10) scale(0.00586 -0.00586)"/><use href="#g0" transform="translate(86.20 598.10) scale(0.00586 -0.00586)"/><use href="#g2" transform="translate(92.30 595.00) scale(0.00410 -0.00410)"/><use href="#g1" transform="translate(122.30 598.10) scale(0.00586 -0.00586)"/><use href="#g0" transform="translate(128.30 598.10) scale(0.00586 -0.00586)"/><use href="#g3" transform="translate(134.40 595.00) scale(0.00410 -0.00410)"/><use href="#g1" transform="translate(159.90 598.10) scale(0.00586 -0.00586)"/><use href="#g0" transform="translate(165.90 598.10) scale(0.00586 -0.00586)"/><use href="#g4" transform="translate(172.00 595.00) scale(0.00410 -0.00410)"/><text x="33.45" y="477.4" class="pl">J</text><path d="M87.80 574.20 L108.60 571.30 L128.70 570.50 L149.50 567.40 L170.30 561.40" fill="none" stroke="#000" stroke-width="1.7"/><path d="M87.80 565.00 L108.60 553.00 L128.20 545.00 L149.20 525.00 L170.30 513.80" fill="none" stroke="#000" stroke-width="1.7"/><path d="M87.80 565.00 L108.60 552.30 L128.20 539.60 L149.20 522.00 L170.30 503.20" fill="none" stroke="#000" stroke-width="1.9" stroke-dasharray="2.4 3"/><path d="M87.80 566.00 L108.60 553.40 L128.20 546.00 L149.20 527.00 L169.70 529.00" fill="none" stroke="#000" stroke-width="1.9" stroke-dasharray="2.4 3"/><path d="M128.20 529.50V555.00M124.60 529.50H131.80M124.60 555.00H131.80" stroke="#000" stroke-width="1.4" fill="none"/><path d="M149.20 517.10V534.30M145.60 517.10H152.80M145.60 534.30H152.80" stroke="#000" stroke-width="1.4" fill="none"/><path d="M170.30 501.20V506.50M166.70 501.20H173.90M166.70 506.50H173.90" stroke="#000" stroke-width="1.4" fill="none"/><path d="M170.30 556.10V566.00M166.70 556.10H173.90M166.70 566.00H173.90" stroke="#000" stroke-width="1.4" fill="none"/><path d="M169.70 525.70V533.00M166.10 525.70H173.30M166.10 533.00H173.30" stroke="#000" stroke-width="1.4" fill="none"/><path d="M108.60 548.00V560.50M105.00 548.00H112.20M105.00 560.50H112.20" stroke="#000" stroke-width="1.4" fill="none"/><path d="M87.80 561.00V570.50M84.20 561.00H91.40M84.20 570.50H91.40" stroke="#000" stroke-width="1.4" fill="none"/><path d="M84.10 577.50L87.80 570.90L91.50 577.50Z" fill="#000"/><path d="M104.90 574.60L108.60 568.00L112.30 574.60Z" fill="#000"/><path d="M125.00 573.80L128.70 567.20L132.40 573.80Z" fill="#000"/><path d="M145.80 570.70L149.50 564.10L153.20 570.70Z" fill="#000"/><path d="M166.60 564.70L170.30 558.10L174.00 564.70Z" fill="#000"/><path d="M83.90 568.60L87.80 561.60L91.70 568.60Z" fill="none" stroke="#000" stroke-width="1.5"/><path d="M104.70 556.60L108.60 549.60L112.50 556.60Z" fill="none" stroke="#000" stroke-width="1.5"/><path d="M124.30 548.60L128.20 541.60L132.10 548.60Z" fill="none" stroke="#000" stroke-width="1.5"/><path d="M145.30 528.60L149.20 521.60L153.10 528.60Z" fill="none" stroke="#000" stroke-width="1.5"/><path d="M166.40 517.40L170.30 510.40L174.20 517.40Z" fill="none" stroke="#000" stroke-width="1.5"/><circle cx="87.8" cy="565" r="3.30" fill="none" stroke="#000" stroke-width="1.6"/><circle cx="108.6" cy="552.3" r="3.30" fill="none" stroke="#000" stroke-width="1.6"/><circle cx="128.2" cy="539.6" r="3.30" fill="none" stroke="#000" stroke-width="1.6"/><circle cx="149.2" cy="522" r="3.30" fill="none" stroke="#000" stroke-width="1.6"/><circle cx="170.3" cy="503.2" r="3.30" fill="none" stroke="#000" stroke-width="1.6"/><circle cx="87.8" cy="566" r="3.6" fill="#000"/><circle cx="108.6" cy="553.4" r="3.6" fill="#000"/><circle cx="128.2" cy="546" r="3.6" fill="#000"/><circle cx="149.2" cy="527" r="3.6" fill="#000"/><circle cx="169.7" cy="529" r="3.6" fill="#000"/><rect x="84.60" y="562.80" width="6.4" height="6.4" fill="#000"/><rect x="105.40" y="550.20" width="6.4" height="6.4" fill="#000"/><rect x="125.50" y="551.40" width="6.4" height="6.4" fill="#000"/><rect x="146.00" y="523.80" width="6.4" height="6.4" fill="#000"/><rect x="166.50" y="525.80" width="6.4" height="6.4" fill="#000"/></g>
<g id="pK"><line x1="252.3" y1="504.7" x2="349.9" y2="504.7" stroke="#7a7a7a" stroke-width="1.1"/><line x1="252.3" y1="528.7" x2="349.9" y2="528.7" stroke="#7a7a7a" stroke-width="1.1"/><line x1="252.3" y1="552.5" x2="349.9" y2="552.5" stroke="#7a7a7a" stroke-width="1.1"/><path d="M252.3 481V576.1H349.9V481" fill="none" stroke="#8e8e8e" stroke-width="1.3"/><path d="M251.70 481H350.50" fill="none" stroke="#5a5a5a" stroke-width="1.3"/><use href="#g2" transform="translate(223.70 487.90) scale(0.00586 -0.00586)"/><use href="#g0" transform="translate(229.70 487.90) scale(0.00586 -0.00586)"/><use href="#g0" transform="translate(235.70 487.90) scale(0.00586 -0.00586)"/><use href="#g1" transform="translate(223.70 534.90) scale(0.00586 -0.00586)"/><use href="#g0" transform="translate(229.70 534.90) scale(0.00586 -0.00586)"/><use href="#g0" transform="translate(235.70 534.90) scale(0.00586 -0.00586)"/><use href="#g0" transform="translate(232.20 582.00) scale(0.00586 -0.00586)"/><use href="#g1" transform="translate(258.60 598.00) scale(0.00586 -0.00586)"/><use href="#g0" transform="translate(264.60 598.00) scale(0.00586 -0.00586)"/><use href="#g2" transform="translate(270.70 594.90) scale(0.00410 -0.00410)"/><use href="#g1" transform="translate(295.40 598.00) scale(0.00586 -0.00586)"/><use href="#g0" transform="translate(301.40 598.00) scale(0.00586 -0.00586)"/><use href="#g3" transform="translate(307.50 594.90) scale(0.00410 -0.00410)"/><use href="#g1" transform="translate(329.80 598.00) scale(0.00586 -0.00586)"/><use href="#g0" transform="translate(335.80 598.00) scale(0.00586 -0.00586)"/><use href="#g4" transform="translate(341.90 594.90) scale(0.00410 -0.00410)"/><text x="208.6" y="476.2" class="pl">K</text><path d="M262.40 573.20 L281.40 570.40 L301.00 570.40 L321.00 567.00 L340.80 561.00" fill="none" stroke="#000" stroke-width="1.7"/><path d="M261.80 557.70 L281.40 547.30 L301.00 539.80 L320.40 534.00 L340.20 527.00" fill="none" stroke="#000" stroke-width="1.7"/><path d="M261.80 557.70 L281.40 547.30 L301.00 528.80 L320.40 520.40 L340.20 524.60" fill="none" stroke="#000" stroke-width="1.9" stroke-dasharray="2.4 3"/><path d="M261.80 566.90 L281.40 561.10 L301.00 553.60 L320.40 541.40 L340.20 527.00" fill="none" stroke="#000" stroke-width="1.9" stroke-dasharray="2.4 3"/><path d="M340.80 555.90V565.00M337.20 555.90H344.40M337.20 565.00H344.40" stroke="#000" stroke-width="1.4" fill="none"/><path d="M301.00 544.40V561.70M297.40 544.40H304.60M297.40 561.70H304.60" stroke="#000" stroke-width="1.4" fill="none"/><path d="M320.40 516.90V524.50M316.80 516.90H324.00M316.80 524.50H324.00" stroke="#000" stroke-width="1.4" fill="none"/><path d="M340.20 520.40V533.20M336.60 520.40H343.80M336.60 533.20H343.80" stroke="#000" stroke-width="1.4" fill="none"/><path d="M301.00 525.00V545.00M297.40 525.00H304.60M297.40 545.00H304.60" stroke="#000" stroke-width="1.4" fill="none"/><path d="M320.40 530.00V545.00M316.80 530.00H324.00M316.80 545.00H324.00" stroke="#000" stroke-width="1.4" fill="none"/><path d="M261.80 553.60V562.30M258.20 553.60H265.40M258.20 562.30H265.40" stroke="#000" stroke-width="1.4" fill="none"/><path d="M281.40 543.00V552.00M277.80 543.00H285.00M277.80 552.00H285.00" stroke="#000" stroke-width="1.4" fill="none"/><path d="M281.40 557.70V565.20M277.80 557.70H285.00M277.80 565.20H285.00" stroke="#000" stroke-width="1.4" fill="none"/><path d="M258.70 576.50L262.40 569.90L266.10 576.50Z" fill="#000"/><path d="M277.70 573.70L281.40 567.10L285.10 573.70Z" fill="#000"/><path d="M297.30 573.70L301.00 567.10L304.70 573.70Z" fill="#000"/><path d="M317.30 570.30L321.00 563.70L324.70 570.30Z" fill="#000"/><path d="M337.10 564.30L340.80 557.70L344.50 564.30Z" fill="#000"/><path d="M257.90 561.30L261.80 554.30L265.70 561.30Z" fill="none" stroke="#000" stroke-width="1.5"/><path d="M277.50 550.90L281.40 543.90L285.30 550.90Z" fill="none" stroke="#000" stroke-width="1.5"/><path d="M297.10 543.40L301.00 536.40L304.90 543.40Z" fill="none" stroke="#000" stroke-width="1.5"/><path d="M316.50 537.60L320.40 530.60L324.30 537.60Z" fill="none" stroke="#000" stroke-width="1.5"/><path d="M336.30 530.60L340.20 523.60L344.10 530.60Z" fill="none" stroke="#000" stroke-width="1.5"/><circle cx="261.8" cy="557.7" r="3.30" fill="none" stroke="#000" stroke-width="1.6"/><circle cx="281.4" cy="547.3" r="3.30" fill="none" stroke="#000" stroke-width="1.6"/><circle cx="301" cy="528.8" r="3.30" fill="none" stroke="#000" stroke-width="1.6"/><circle cx="320.4" cy="520.4" r="3.30" fill="none" stroke="#000" stroke-width="1.6"/><circle cx="340.2" cy="524.6" r="3.30" fill="none" stroke="#000" stroke-width="1.6"/><circle cx="261.8" cy="566.9" r="3.6" fill="#000"/><circle cx="281.4" cy="561.1" r="3.6" fill="#000"/><circle cx="301" cy="553.6" r="3.6" fill="#000"/><circle cx="320.4" cy="541.4" r="3.6" fill="#000"/><circle cx="340.2" cy="527" r="3.6" fill="#000"/><rect x="258.60" y="555.30" width="6.4" height="6.4" fill="#000"/><rect x="278.20" y="544.30" width="6.4" height="6.4" fill="#000"/><rect x="278.20" y="558.10" width="6.4" height="6.4" fill="#000"/><rect x="317.20" y="538.20" width="6.4" height="6.4" fill="#000"/><rect x="337.00" y="524.30" width="6.4" height="6.4" fill="#000"/></g>
<text class="big" transform="translate(20 516.6) rotate(-90)" x="0" y="0" textLength="416" lengthAdjust="spacingAndGlyphs">[<tspan dy="-7.4" font-size="14.5">3</tspan><tspan dy="7.4">H] thymidine incorporation (cpm x 10</tspan><tspan dy="-7.4" font-size="14.5">3</tspan><tspan dy="7.4">)</tspan></text>
<text class="big" x="167" y="640.5" font-size="23" textLength="215.5" lengthAdjust="spacingAndGlyphs">Number of DCs / well</text>
<rect x="46.25" y="635" width="102.5" height="3.6" fill="#000"/>
<rect x="415" y="635" width="104" height="3.6" fill="#000"/>
</svg>
</body></html>
